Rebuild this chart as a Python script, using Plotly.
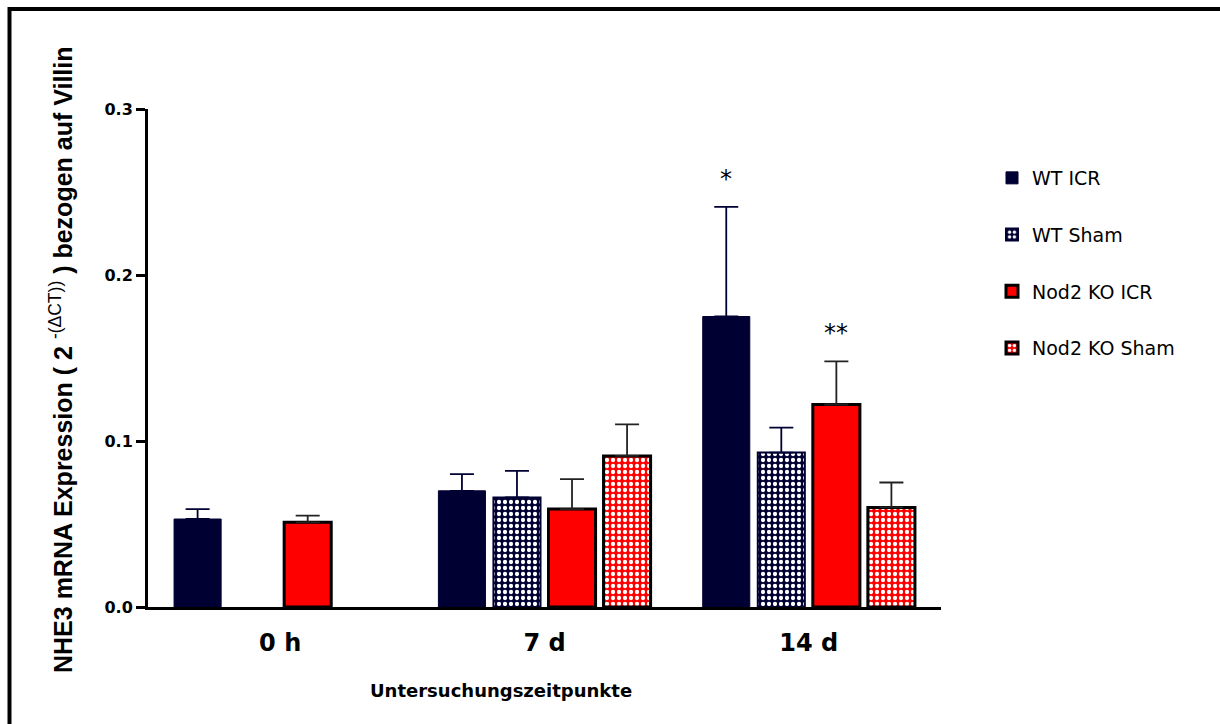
import plotly.graph_objects as go

# ---- data ----
categories = ["0 h", "7 d", "14 d"]
series_names = ["WT ICR", "WT Sham", "Nod2 KO ICR", "Nod2 KO Sham"]
wt_icr_mean = [0.053, 0.070, 0.175]
wt_icr_sem = [0.006, 0.010, 0.066]
wt_sham_mean = [None, 0.066, 0.093]
wt_sham_sem = [None, 0.016, 0.015]
ko_icr_mean = [0.051, 0.059, 0.122]
ko_icr_sem = [0.004, 0.018, 0.026]
ko_sham_mean = [None, 0.091, 0.060]
ko_sham_sem = [None, 0.019, 0.015]
y_ticks = [0.0, 0.1, 0.2, 0.3]
significance = [("WT ICR", "14 d", "*"), ("Nod2 KO ICR", "14 d", "**")]

# ---- layout geometry (pixels) ----
W, H = 1220, 724
L, R, T, B = 148, 279, 109, 117
PW, PH = W - L - R, H - T - B
BARGAP = 0.167
BARGROUPGAP = 0.145

def px_x(p):
    return (p - L) / PW

def px_y(p):
    return (H - B - p) / PH

NAVY = "#000033"
RED = "#ff0000"
LEGFONT = dict(family="DejaVu Sans", size=19, color="#000000")

styles = {
    "WT ICR": dict(color=NAVY, line=dict(color=NAVY, width=1)),
    "WT Sham": dict(color=NAVY, line=dict(color=NAVY, width=2),
                    pattern=dict(shape=".", fgcolor="#ffffff", bgcolor=NAVY, size=6, solidity=0.4, fillmode="replace")),
    "Nod2 KO ICR": dict(color=RED, line=dict(color="#000000", width=3)),
    "Nod2 KO Sham": dict(color=RED, line=dict(color="#000000", width=3),
                         pattern=dict(shape=".", fgcolor="#ffffff", bgcolor=RED, size=6, solidity=0.4, fillmode="replace")),
}
err_colors = {"WT ICR": NAVY, "WT Sham": NAVY, "Nod2 KO ICR": "#222222", "Nod2 KO Sham": "#222222"}

data = {
    "WT ICR": (wt_icr_mean, wt_icr_sem),
    "WT Sham": (wt_sham_mean, wt_sham_sem),
    "Nod2 KO ICR": (ko_icr_mean, ko_icr_sem),
    "Nod2 KO Sham": (ko_sham_mean, ko_sham_sem),
}

fig = go.Figure()
for i, name in enumerate(series_names):
    mean, sem = data[name]
    fig.add_trace(go.Bar(
        name=name, x=categories, y=mean,
        marker=styles[name],
        legendgroup=name,
        error_y=dict(type="data", array=sem, arrayminus=[0] * len(sem), symmetric=False,
                     color=err_colors[name], thickness=1.8, width=12),
    ))

# significance stars
cat_w = PW / len(categories)
slot = cat_w * (1 - BARGAP) / len(series_names)
annotations = []
for name, cat, txt in significance:
    si = series_names.index(name)
    ci = categories.index(cat)
    mean, sem = data[name]
    annotations.append(dict(
        x=cat, y=mean[ci] + sem[ci], xref="x", yref="y", text=txt, showarrow=False,
        xshift=(si - (len(series_names) - 1) / 2) * slot, yshift=28,
        xanchor="center", yanchor="middle",
        font=dict(family="DejaVu Sans", size=24, color="#000000"),
    ))

# axis titles
annotations.append(dict(
    x=px_x(501), y=px_y(690), xref="paper", yref="paper", showarrow=False,
    text="<b>Untersuchungszeitpunkte</b>", xanchor="center", yanchor="middle",
    font=dict(family="DejaVu Sans", size=18, color="#000000"),
))
annotations.append(dict(
    x=px_x(61), y=px_y(360), xref="paper", yref="paper", showarrow=False, textangle=-90,
    text="<b>NHE3 mRNA Expression ( 2 </b><sup>-(ΔCT))</sup><b> ) bezogen auf Villin</b>",
    xanchor="center", yanchor="middle",
    font=dict(family="Liberation Sans", size=25, color="#000000"),
))

shapes = [
    dict(type="line", xref="paper", yref="paper", x0=px_x(9.5), x1=px_x(W + 5), y0=px_y(9), y1=px_y(9),
         line=dict(color="#000000", width=4)),
    dict(type="line", xref="paper", yref="paper", x0=px_x(9.5), x1=px_x(9.5), y0=px_y(7), y1=px_y(H + 5),
         line=dict(color="#000000", width=4)),
]

fig.update_layout(
    width=W, height=H,
    margin=dict(l=L, r=R, t=T, b=B, pad=0),
    paper_bgcolor="#ffffff", plot_bgcolor="#ffffff",
    barmode="group", bargap=BARGAP, bargroupgap=BARGROUPGAP,
    showlegend=True,
    legend=dict(x=px_x(992), y=px_y(159), xanchor="left", yanchor="top",
                font=LEGFONT, traceorder="grouped", tracegroupgap=29,
                bgcolor="rgba(0,0,0,0)", itemwidth=30),
    annotations=annotations,
    shapes=shapes,
    xaxis=dict(
        type="category", categoryorder="array", categoryarray=categories,
        showline=True, linecolor="#000000", linewidth=3, ticks="",
        showgrid=False, zeroline=False,
        tickfont=dict(family="DejaVu Sans", size=24, color="#000000", weight="bold"),
        ticklabelstandoff=12,
    ),
    yaxis=dict(
        range=[0, 0.3], tickvals=y_ticks, tickformat=".1f",
        showline=True, linecolor="#000000", linewidth=3,
        ticks="outside", ticklen=9, tickwidth=3, tickcolor="#000000",
        showgrid=False, zeroline=False,
        tickfont=dict(family="DejaVu Sans", size=16, color="#000000", weight="bold"),
    ),
)

fig.write_html("out.html")
